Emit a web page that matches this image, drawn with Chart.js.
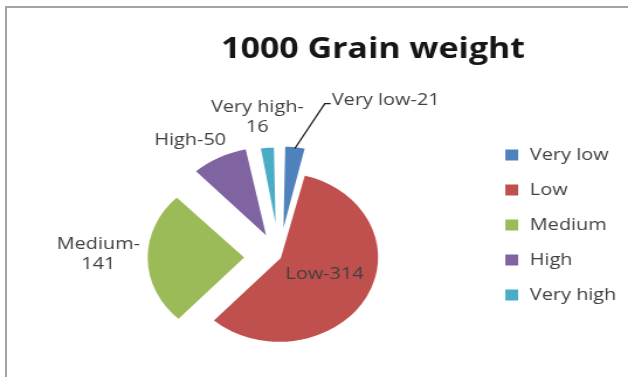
<!DOCTYPE html>
<html>
<head>
<meta charset="utf-8">
<script src="https://cdn.jsdelivr.net/npm/chart.js@4.4.1/dist/chart.umd.min.js"></script>
<style>
  html, body { margin: 0; padding: 0; background: #fff; overflow: hidden; }
  #frame { position: absolute; left: 5px; top: 6px; width: 640px; height: 400px;
           border-left: 2px solid #a3a3a3; border-top: 2px solid #a3a3a3; }
  /* the chart is laid out narrow and widened on screen */
  #chart { position: absolute; left: 0; top: 0; transform: scaleX(1.1695); transform-origin: 0 0; }
</style>
</head>
<body>
<div id="frame"></div>
<canvas id="chart" width="537" height="386"></canvas>
<script>
const chartTitle = '1000 Grain weight';
const categories = ['Very low', 'Low', 'Medium', 'High', 'Very high'];
const counts = [21, 314, 141, 50, 16];
const sliceColors = ['#4F81BD', '#C0504D', '#9BBB59', '#8064A2', '#4BACC6'];

// where each slice label sits: distance from the slice centre (x radius),
// extra turn in degrees, break after the dash, draw a leader line
const labelSpots = [
  { dist: 1.67, turn: 8, wrap: false, leader: true },
  { dist: 0.49, turn: -5, wrap: false, leader: false },
  { dist: 1.06, turn: 2.5, wrap: true, leader: false },
  { dist: 1.13, turn: 5, wrap: false, leader: false },
  { dist: 1.25, turn: -4, wrap: true, leader: false }
];
const textFont = '17px "Open Sans"';
const lineGap = 20;

// title above the plot
const titlePlugin = {
  id: 'bigTitle',
  afterDraw(chart) {
    const ctx = chart.ctx;
    ctx.save();
    ctx.font = 'bold 29px "Open Sans"';
    ctx.fillStyle = '#161616';
    ctx.textAlign = 'center';
    ctx.textBaseline = 'alphabetic';
    ctx.fillText(chartTitle, 319, 58);
    ctx.restore();
  }
};

// "category-value" text next to (or inside) each slice
const sliceLabels = {
  id: 'sliceLabels',
  afterDatasetsDraw(chart) {
    const ctx = chart.ctx;
    const meta = chart.getDatasetMeta(0);
    ctx.save();
    ctx.font = textFont;
    ctx.fillStyle = '#404040';
    ctx.textAlign = 'center';
    ctx.textBaseline = 'middle';
    meta.data.forEach((arc, i) => {
      const spot = labelSpots[i];
      const mid = (arc.startAngle + arc.endAngle) / 2;
      const shift = (arc.options.offset || 0) / 4;
      const cx = arc.x + Math.cos(mid) * shift;
      const cy = arc.y + Math.sin(mid) * shift;
      const r = arc.outerRadius;
      const a = mid + spot.turn * Math.PI / 180;
      const ax = cx + Math.cos(a) * r * spot.dist;
      const ay = cy + Math.sin(a) * r * spot.dist;
      const lines = spot.wrap
        ? [categories[i] + '-', String(counts[i])]
        : [categories[i] + '-' + counts[i]];
      const w = Math.max(...lines.map(l => ctx.measureText(l).width));
      const h = lines.length * lineGap;
      const dx = ax - cx, dy = ay - cy;
      let left, top;
      if (spot.leader) {
        const px = cx + Math.cos(mid) * r * 1.1;
        const py = cy + Math.sin(mid) * r * 1.1;
        ctx.strokeStyle = '#1a1a1a';
        ctx.lineWidth = 1.3;
        ctx.beginPath();
        ctx.moveTo(px, py);
        ctx.lineTo(ax, ay);
        ctx.lineTo(ax + 5, ay);
        ctx.stroke();
        left = ax + 6;
        top = ay - h / 2 - 3;
      } else if (spot.dist < 1) {
        left = ax - w / 2;
        top = ay - h / 2;
      } else {
        left = dx < -25 ? ax - w : (dx > 25 ? ax : ax - w / 2);
        top = dy < -r * 0.4 ? ay - h : (dy > r * 0.4 ? ay : ay - h / 2);
      }
      lines.forEach((line, k) => {
        ctx.fillText(line, left + w / 2, top + lineGap * (k + 0.5));
      });
    });
    ctx.restore();
  }
};

new Chart(document.getElementById('chart'), {
  type: 'pie',
  data: {
    labels: categories,
    datasets: [{
      data: counts,
      backgroundColor: sliceColors,
      borderColor: '#ffffff',
      borderWidth: 3,
      offset: [60, 0, 112, 76, 56]
    }]
  },
  options: {
    responsive: false,
    animation: false,
    events: [],
    radius: 86,
    layout: { padding: { left: 65, right: 0, top: 128.5, bottom: 0 } },
    plugins: {
      title: { display: false },
      tooltip: { enabled: false },
      legend: {
        position: 'right',
        align: 'start',
        labels: {
          boxWidth: 14,
          boxHeight: 14,
          padding: 18,
          color: '#404040',
          font: { family: 'Open Sans', size: 17 }
        }
      }
    }
  },
  plugins: [sliceLabels, titlePlugin]
});
</script>
</body>
</html>
